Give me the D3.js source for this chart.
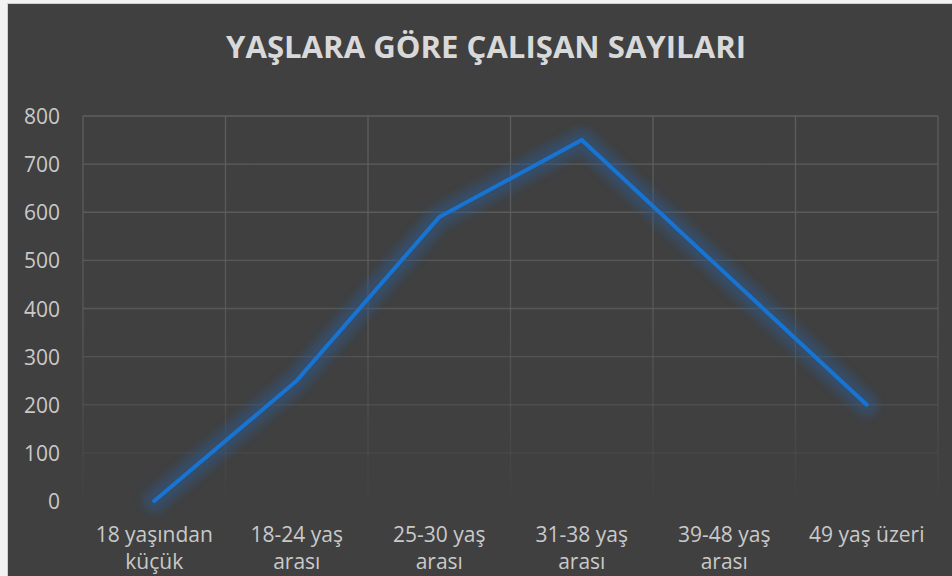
<!DOCTYPE html>
<html>
<head>
<meta charset="utf-8">
<script src="https://cdn.jsdelivr.net/npm/d3@7"></script>
<style>
  html, body { margin: 0; padding: 0; background: #ffffff; }
  svg { display: block; }
  text { font-family: "Open Sans", "Noto Sans", sans-serif; }
</style>
</head>
<body>
<svg width="952" height="576"></svg>
<script>
// chart data
var title = "YAŞLARA GÖRE ÇALIŞAN SAYILARI";
var categories = ["18 yaşından\nküçük", "18-24 yaş\narası", "25-30 yaş\narası", "31-38 yaş\narası", "39-48 yaş\narası", "49 yaş üzeri"];
var values = [0, 250, 590, 750, 475, 200];
var yTicks = [0, 100, 200, 300, 400, 500, 600, 700, 800];

var svg = d3.select("svg"),
	W = +svg.attr("width"),
	H = +svg.attr("height"),
	margin = {top: 116, right: 14, bottom: 75, left: 83};

// chart area background with the thin light border on top/left
svg.append("rect").attr("x", 0).attr("y", 0).attr("width", W).attr("height", H).attr("fill", "#f2f2f2");
svg.append("rect").attr("x", 7).attr("y", 3).attr("width", W - 7).attr("height", H - 3).attr("fill", "#d0d0d0");
svg.append("rect").attr("x", 8).attr("y", 4).attr("width", W - 8).attr("height", H - 4).attr("fill", "#404040");

var defs = svg.append("defs");

// gridlines fade out towards the bottom
var grad = defs.append("linearGradient")
	.attr("id", "gridFade")
	.attr("gradientUnits", "userSpaceOnUse")
	.attr("x1", 0).attr("y1", margin.top)
	.attr("x2", 0).attr("y2", H - margin.bottom);
grad.append("stop").attr("offset", "0%").attr("stop-color", "#5e5e5e").attr("stop-opacity", 1);
grad.append("stop").attr("offset", "55%").attr("stop-color", "#5e5e5e").attr("stop-opacity", 0.75);
grad.append("stop").attr("offset", "100%").attr("stop-color", "#5e5e5e").attr("stop-opacity", 0.05);

// soft glow under the line
var glow = defs.append("filter")
	.attr("id", "glow")
	.attr("x", "-20%").attr("y", "-20%")
	.attr("width", "140%").attr("height", "140%");
glow.append("feGaussianBlur").attr("stdDeviation", 5);

var x = d3.scaleBand()
	.domain(categories)
	.range([margin.left, W - margin.right]);

var y = d3.scaleLinear()
	.domain([0, 800])
	.range([H - margin.bottom, margin.top]);

// horizontal gridlines
svg.append("g")
	.selectAll("line")
	.data(yTicks.filter(function(d) { return d > 0; }))
	.enter().append("line")
	.attr("x1", x.range()[0])
	.attr("x2", x.range()[1])
	.attr("y1", function(d) { return y(d); })
	.attr("y2", function(d) { return y(d); })
	.attr("stroke", "url(#gridFade)")
	.attr("stroke-width", 1.3);

// vertical gridlines at the category boundaries
var bounds = categories.map(function(c) { return x(c); }).concat([x.range()[1]]);
svg.append("g")
	.selectAll("rect")
	.data(bounds)
	.enter().append("rect")
	.attr("x", function(d) { return d - 0.65; })
	.attr("width", 1.3)
	.attr("y", y(800))
	.attr("height", y(0) - y(800))
	.attr("fill", "url(#gridFade)");

// y axis labels
var yAxis = svg.append("g")
	.attr("transform", "translate(" + (margin.left - 23) + ",0)")
	.call(d3.axisLeft(y).tickValues(yTicks).tickSize(0).tickPadding(0));
yAxis.select(".domain").remove();
yAxis.selectAll("text")
	.attr("fill", "#c9c9c9")
	.style("font-size", "21px")
	.attr("dy", "0.36em");

// x axis labels, split on two lines
var xAxis = svg.append("g")
	.attr("transform", "translate(0," + y(0) + ")")
	.call(d3.axisBottom(x).tickSize(0).tickPadding(0));
xAxis.select(".domain").remove();
xAxis.selectAll("text")
	.attr("fill", "#c9c9c9")
	.style("font-size", "21px")
	.attr("y", 0)
	.attr("dy", null)
	.each(function(d) {
		var t = d3.select(this);
		t.text(null);
		d.split("\n").forEach(function(part, i) {
			t.append("tspan")
				.attr("x", 0)
				.attr("y", 41 + i * 27)
				.text(part);
		});
	});

var line = d3.line()
	.x(function(d, i) { return x(categories[i]) + x.bandwidth() / 2; })
	.y(function(d) { return y(d); });

// glow first, then the line itself
svg.append("path")
	.datum(values)
	.attr("d", line)
	.attr("fill", "none")
	.attr("stroke", "#2c5a92")
	.attr("stroke-opacity", 0.5)
	.attr("stroke-width", 22)
	.attr("stroke-linejoin", "round")
	.attr("stroke-linecap", "round")
	.attr("filter", "url(#glow)");

svg.append("path")
	.datum(values)
	.attr("d", line)
	.attr("fill", "none")
	.attr("stroke", "#1874d2")
	.attr("stroke-width", 4)
	.attr("stroke-linejoin", "miter")
	.attr("stroke-linecap", "round");

// title
svg.append("text")
	.attr("x", 486)
	.attr("y", 58)
	.attr("text-anchor", "middle")
	.attr("fill", "#d9d9d9")
	.style("font-size", "31px")
	.style("font-weight", "bold")
	.attr("textLength", 520)
	.attr("lengthAdjust", "spacingAndGlyphs")
	.text(title);
</script>
</body>
</html>
